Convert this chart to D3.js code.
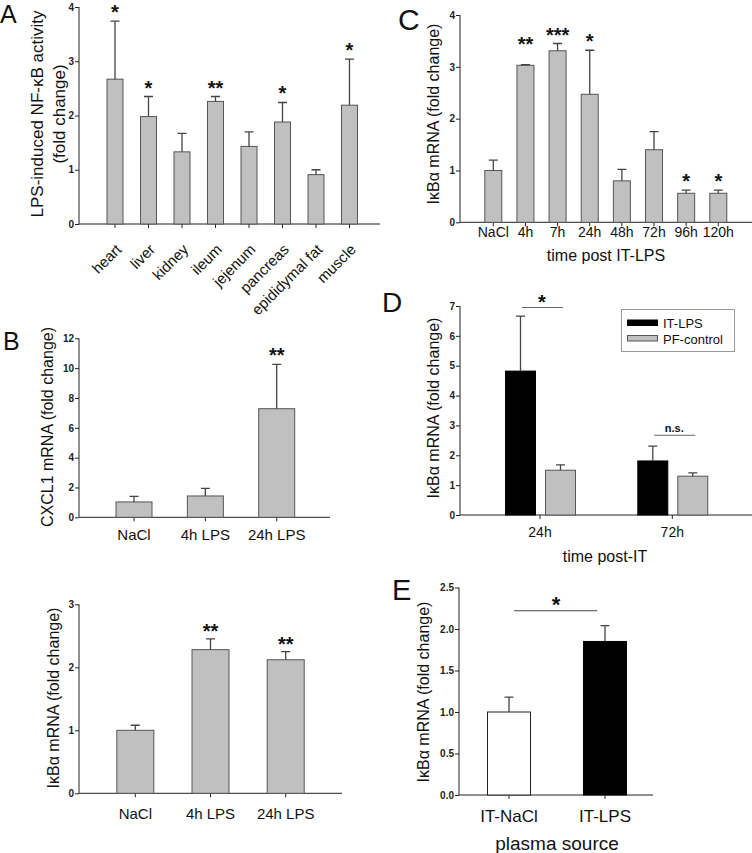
<!DOCTYPE html>
<html><head><meta charset="utf-8">
<script src="https://cdn.jsdelivr.net/npm/d3@7"></script>
<style>
body{margin:0;background:#fff;}
svg{display:block;font-family:"Liberation Sans",Arial,sans-serif;}
</style></head>
<body><svg id="c" width="752" height="853"></svg>
<script>
// ---------- DATA ----------
// Panel A
const aCats  = ["heart","liver","kidney","ileum","jejenum","pancreas","epididymal fat","muscle"];
const aMeans = [2.67,1.98,1.33,2.26,1.43,1.88,0.91,2.19];
const aSem   = [1.07,0.37,0.34,0.09,0.27,0.36,0.09,0.85];
const aStars = ["*","*","","**","","*","","*"];
const aTicks = [0,1,2,3,4];
// Panel B (top)
const bCats  = ["NaCl","4h LPS","24h LPS"];
const b1Means = [1.03,1.43,7.28];
const b1Sem   = [0.37,0.51,2.97];
const b1Stars = ["","","**"];
const b1Ticks = [0,2,4,6,8,10,12];
// Panel B (bottom)
const b2Means = [1.00,2.28,2.12];
const b2Sem   = [0.08,0.17,0.13];
const b2Stars = ["","**","**"];
const b2Ticks = [0,1,2,3];
// Panel C
const cCats  = ["NaCl","4h","7h","24h","48h","72h","96h","120h"];
const cMeans = [1.00,3.03,3.31,2.47,0.80,1.40,0.56,0.56];
const cSem   = [0.20,0.01,0.14,0.85,0.22,0.35,0.06,0.06];
const cStars = ["","**","***","*","","","*","*"];
const cStarLevel = [null,3.52,3.70,3.58,null,null,0.87,0.87];
const cTicks = [0,1,2,3,4];
// Panel D
const dGroups = ["24h","72h"];
const dSeries = ["IT-LPS","PF-control"];
const dItLps  = [4.82,1.81];
const dItLpsSem = [1.84,0.50];
const dPf     = [1.50,1.30];
const dPfSem  = [0.18,0.11];
const dSig    = ["*","n.s."];
const dSigLevel = [6.95,2.67];
const dTicks  = [0,1,2,3,4,5,6,7];
// Panel E
const eCats  = ["IT-NaCl","IT-LPS"];
const eMeans = [1.00,1.85];
const eSem   = [0.18,0.19];
const eSig   = "*";
const eSigLevel = 2.22;
const eTicks = [0,0.5,1.0,1.5,2.0,2.5];

// ---------- DRAW ----------
const svg = d3.select("#c");
const AX = "#222", BARFILL = "#c0c0c0", BARSTROKE = "#555", ERR = "#444";

function yAxis(g, y, x0, ticks, fmt) {
  const ax = g.append("g").attr("transform", `translate(${x0},0)`)
    .call(d3.axisLeft(y).tickValues(ticks).tickSize(4).tickPadding(1).tickFormat(fmt || d3.format("d")));
  ax.select(".domain").attr("stroke", AX).attr("d", `M0,${y.range()[0]}V${y.range()[1]}`);
  ax.selectAll(".tick line").attr("stroke", AX);
  ax.selectAll(".tick text").attr("font-size", 10).attr("font-weight", "bold").attr("fill", AX)
    .attr("font-family", "Liberation Sans, Arial");
}
function xAxisLine(g, y0, x0, x1) {
  g.append("line").attr("x1", x0).attr("x2", x1).attr("y1", y0).attr("y2", y0).attr("stroke", AX);
}
function xTicks(g, xs, y0) {
  g.selectAll(null).data(xs).enter().append("line")
    .attr("x1", d => d).attr("x2", d => d).attr("y1", y0).attr("y2", y0 + 4).attr("stroke", AX);
}
function bars(g, xs, vals, sems, y, w, fill, stroke) {
  g.selectAll(null).data(vals).enter().append("rect")
    .attr("x", (d, i) => xs[i] - w / 2).attr("width", w)
    .attr("y", d => y(d)).attr("height", d => y(0) - y(d))
    .attr("fill", fill).attr("stroke", stroke).attr("stroke-width", 1);
  g.selectAll(null).data(vals).enter().append("path")
    .attr("d", (d, i) => `M${xs[i]},${y(d)}V${y(d + sems[i])}M${xs[i] - 4.5},${y(d + sems[i])}H${xs[i] + 4.5}`)
    .attr("stroke", ERR).attr("stroke-width", 1.3).attr("fill", "none");
}
function stars(g, xs, marks, ys) {
  g.selectAll(null).data(marks).enter().append("text")
    .attr("x", (d, i) => xs[i]).attr("y", (d, i) => ys[i] + 11)
    .attr("text-anchor", "middle").attr("font-size", 20).attr("font-weight", "bold").attr("fill", "#111")
    .text(d => d);
}
function ylabel(g, x, yc, txt, size) {
  g.append("text").attr("transform", `translate(${x},${yc}) rotate(-90)`)
    .attr("text-anchor", "middle").attr("font-size", size).attr("fill", "#111").text(txt);
}
function letter(g, x, y, t, size) {
  g.append("text").attr("x", x).attr("y", y).attr("font-size", size).attr("fill", "#111").text(t);
}
function catLabels(g, xs, cats, y, size) {
  g.selectAll(null).data(cats).enter().append("text")
    .attr("x", (d, i) => xs[i]).attr("y", y).attr("text-anchor", "middle")
    .attr("font-size", size).attr("fill", "#111").text(d => d);
}

// ---- Panel A ----
{
  const g = svg.append("g");
  const y = d3.scaleLinear().domain([0, 4]).range([224, 7]);
  const x = d3.scalePoint().domain(aCats).range([115, 349.5]);
  const xs = aCats.map(c => x(c));
  xAxisLine(g, 224, 79, 380);
  xTicks(g, xs, 224);
  bars(g, xs, aMeans, aSem, y, 16, BARFILL, BARSTROKE);
  yAxis(g, y, 79, aTicks);
  stars(g, xs, aStars, aMeans.map((m, i) => y(m + aSem[i]) - 13));
  g.selectAll(null).data(aCats).enter().append("text")
    .attr("transform", (d, i) => `translate(${xs[i]},${243}) rotate(-45)`)
    .attr("text-anchor", "end").attr("dy", "0.7em").attr("font-size", 15).attr("fill", "#111").text(d => d);
  ylabel(g, 43, 114, "LPS-induced NF-κB activity", 17);
  ylabel(g, 65, 114, "(fold change)", 17);
  letter(g, 0, 23, "A", 25);
}
// ---- Panel B top ----
{
  const g = svg.append("g");
  const y = d3.scaleLinear().domain([0, 12]).range([517.3, 338.3]);
  const x = d3.scalePoint().domain(bCats).range([134, 276.7]);
  const xs = bCats.map(c => x(c));
  xAxisLine(g, 517.3, 79, 330);
  xTicks(g, xs, 517.3);
  bars(g, xs, b1Means, b1Sem, y, 36, BARFILL, BARSTROKE);
  yAxis(g, y, 79, b1Ticks);
  stars(g, xs, b1Stars, b1Means.map((m, i) => y(m + b1Sem[i]) - 13));
  catLabels(g, xs, bCats, 540, 15);
  ylabel(g, 53, 427, "CXCL1 mRNA (fold change)", 16);
  letter(g, 3, 350, "B", 25);
}
// ---- Panel B bottom ----
{
  const g = svg.append("g");
  const y = d3.scaleLinear().domain([0, 3]).range([793.3, 604.3]);
  const x = d3.scalePoint().domain(bCats).range([135.3, 285.7]);
  const xs = bCats.map(c => x(c));
  xAxisLine(g, 793.3, 79, 342);
  xTicks(g, xs, 793.3);
  bars(g, xs, b2Means, b2Sem, y, 37, BARFILL, BARSTROKE);
  yAxis(g, y, 79, b2Ticks);
  stars(g, xs, b2Stars, b2Means.map((m, i) => y(m + b2Sem[i]) - 12));
  catLabels(g, xs, bCats, 819, 15);
  ylabel(g, 59, 698, "IκBα mRNA (fold change)", 16);
}
// ---- Panel C ----
{
  const g = svg.append("g");
  const y = d3.scaleLinear().domain([0, 4]).range([222.3, 15]);
  const x = d3.scalePoint().domain(cCats).range([493.3, 718.3]);
  const xs = cCats.map(c => x(c));
  xAxisLine(g, 222.3, 460, 752);
  xTicks(g, xs, 222.3);
  bars(g, xs, cMeans, cSem, y, 17, BARFILL, BARSTROKE);
  yAxis(g, y, 460, cTicks);
  stars(g, xs, cStars, cStarLevel.map(v => v == null ? 0 : y(v)));
  catLabels(g, xs, cCats, 237, 14);
  g.append("text").attr("x", 606).attr("y", 261).attr("text-anchor", "middle").attr("font-size", 16).attr("fill", "#111").text("time post IT-LPS");
  ylabel(g, 439, 114, "IκBα mRNA (fold change)", 16);
  letter(g, 398, 30, "C", 30);
}
// ---- Panel D ----
{
  const g = svg.append("g");
  const y = d3.scaleLinear().domain([0, 7]).range([515, 306]);
  const x0 = d3.scalePoint().domain(dGroups).range([540, 672.3]);
  const x1 = d3.scalePoint().domain(dSeries).range([-19.5, 20.5]);
  const gx = dGroups.map(d => x0(d));
  xAxisLine(g, 515, 460, 752);
  xTicks(g, gx, 515);
  bars(g, gx.map(c => c + x1("IT-LPS")), dItLps, dItLpsSem, y, 30, "#000", "#000");
  bars(g, gx.map(c => c + x1("PF-control")), dPf, dPfSem, y, 30, BARFILL, BARSTROKE);
  yAxis(g, y, 460, dTicks);
  // significance brackets
  g.selectAll(null).data(dGroups).enter().append("line")
    .attr("x1", d => x0(d) - 18).attr("x2", d => x0(d) + 23)
    .attr("y1", (d, i) => y(dSigLevel[i])).attr("y2", (d, i) => y(dSigLevel[i]))
    .attr("stroke", "#666").attr("stroke-width", 1);
  g.append("text").attr("x", x0("24h") + 2).attr("y", y(dSigLevel[0]) + 2).attr("text-anchor", "middle")
    .attr("font-size", 20).attr("font-weight", "bold").attr("fill", "#111").text(dSig[0]);
  g.append("text").attr("x", x0("72h") + 2).attr("y", y(dSigLevel[1]) - 3).attr("text-anchor", "middle")
    .attr("font-size", 11).attr("font-weight", "bold").attr("fill", "#111").text(dSig[1]);
  catLabels(g, gx, dGroups, 537, 14);
  g.append("text").attr("x", 605).attr("y", 562).attr("text-anchor", "middle").attr("font-size", 16).attr("fill", "#111").text("time post-IT");
  ylabel(g, 439, 408, "IκBα mRNA (fold change)", 16);
  letter(g, 382, 312, "D", 28);
  // legend
  const lg = g.append("g");
  lg.append("rect").attr("x", 621.5).attr("y", 309.5).attr("width", 113).attr("height", 42)
    .attr("fill", "#fff").attr("stroke", "#999");
  const lcol = [["#000", "#000"], [BARFILL, BARSTROKE]];
  dSeries.forEach((s, i) => {
    lg.append("rect").attr("x", 627.5).attr("y", 320 + i * 15.5).attr("width", 30).attr("height", 5.5)
      .attr("fill", lcol[i][0]).attr("stroke", lcol[i][1]);
    lg.append("text").attr("x", 663).attr("y", 328 + i * 15.5).attr("font-size", 13).attr("fill", "#111").text(s);
  });
}
// ---- Panel E ----
{
  const g = svg.append("g");
  const y = d3.scaleLinear().domain([0, 2.5]).range([795, 587.5]);
  const x = d3.scalePoint().domain(eCats).range([509, 605]);
  const xs = eCats.map(c => x(c));
  xAxisLine(g, 795, 459, 653);
  xTicks(g, xs, 795);
  bars(g, [xs[0]], [eMeans[0]], [eSem[0]], y, 43, "#fff", "#222");
  bars(g, [xs[1]], [eMeans[1]], [eSem[1]], y, 43, "#000", "#000");
  yAxis(g, y, 459, eTicks, d3.format(".1f"));
  g.append("line").attr("x1", 514).attr("x2", 597.3).attr("y1", y(eSigLevel)).attr("y2", y(eSigLevel))
    .attr("stroke", "#444").attr("stroke-width", 1);
  g.append("text").attr("x", 556).attr("y", y(eSigLevel) + 1).attr("text-anchor", "middle")
    .attr("font-size", 22).attr("font-weight", "bold").attr("fill", "#111").text(eSig);
  catLabels(g, xs, eCats, 822, 17);
  g.append("text").attr("x", 557).attr("y", 850).attr("text-anchor", "middle").attr("font-size", 19).attr("fill", "#111").text("plasma source");
  ylabel(g, 429, 692, "IκBα mRNA (fold change)", 16);
  letter(g, 392, 600, "E", 29);
}
</script></body></html>
